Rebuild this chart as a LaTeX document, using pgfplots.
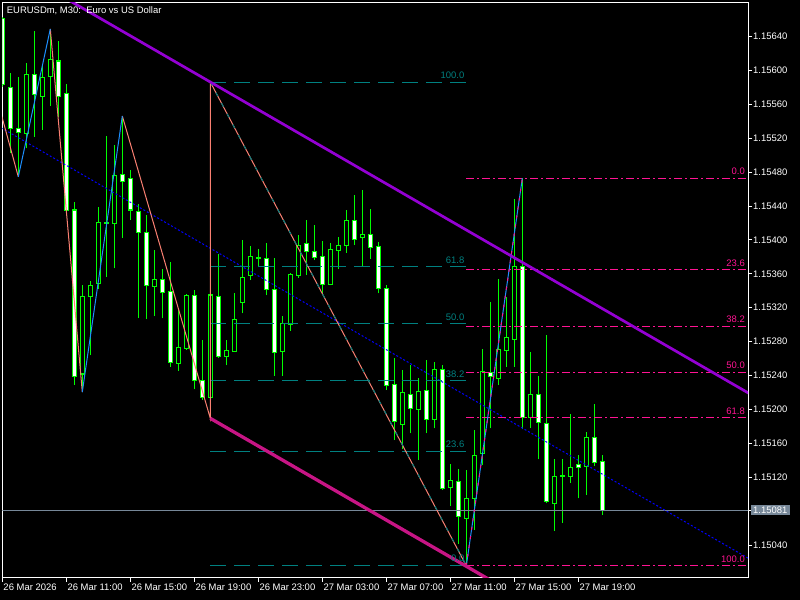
\documentclass[border=0pt]{standalone}
\usepackage{fontspec}
\setmainfont{Liberation Sans}
\usepackage{pgfplots}
\usepackage{pgfplotstable}
\pgfplotsset{compat=1.18}

\definecolor{candle}{RGB}{0,255,0}
\definecolor{violetline}{RGB}{148,0,211}
\definecolor{lowline}{RGB}{199,21,133}
\definecolor{fibA}{RGB}{0,128,128}
\definecolor{fibB}{RGB}{255,20,147}
\definecolor{zzdown}{RGB}{250,128,114}
\definecolor{zzup}{RGB}{30,144,255}
\definecolor{pricegray}{RGB}{119,136,153}

% EURUSDm M30 bars. i = bar index (half hours from 26 Mar 07:00)
% o h l c given in points above 1.15000, i.e. price = 1.15000 + value/100000
\pgfplotstableread{
i o h l c
0 661.5 663.0 580.0 582.8
1 580.1 596.6 502.6 531.7
2 531.7 592.6 474.5 526.8
3 525.8 608.8 508.1 594.6
4 594.6 646.5 521.8 571.4
5 569.0 606.4 529.7 591.9
6 593.4 648.9 558.0 612.3
7 611.1 634.7 545.0 569.0
8 572.2 584.0 428.2 434.5
9 435.3 444.7 229.4 238.6
10 241.8 346.4 220.5 333.8
11 333.0 351.9 264.2 346.4
12 348.8 439.2 342.4 420.8
13 420.0 522.6 356.6 421.0
14 419.6 512.0 366.5 476.2
15 477.4 546.2 402.6 469.5
16 472.7 482.5 423.5 435.3
17 433.3 442.0 308.2 409.0
18 409.0 429.4 306.3 346.4
19 344.8 388.1 310.2 353.5
20 353.5 365.3 307.5 338.2
21 339.7 373.9 250.4 255.1
22 254.4 319.3 245.7 273.3
23 271.6 336.2 270.1 334.6
24 334.2 340.9 223.7 233.9
25 234.3 281.9 211.1 214.3
26 214.3 586.3 189.5 335.0
27 333.0 383.4 260.7 263.0
28 262.2 281.9 252.0 269.3
29 268.1 337.0 267.7 306.3
30 325.9 399.9 313.4 355.9
31 357.8 392.8 352.7 380.7
32 379.0 388.9 367.7 379.5
33 378.3 396.0 334.6 341.7
34 341.7 378.3 239.8 267.4
35 268.1 310.2 239.8 300.8
36 300.4 360.6 292.9 359.4
37 357.8 405.8 355.4 393.6
38 396.0 423.5 358.6 386.6
39 386.9 417.6 376.3 379.0
40 380.7 398.7 337.0 347.6
41 347.6 396.0 346.8 388.9
42 387.7 403.1 365.7 393.6
43 393.6 435.3 384.9 423.1
44 423.1 453.0 394.0 400.7
45 403.1 458.9 369.2 406.6
46 406.6 436.1 377.5 391.3
47 392.5 397.9 337.0 342.9
48 342.9 346.8 222.9 228.8
49 229.6 260.3 163.9 185.5
50 182.4 246.5 152.9 220.2
51 217.8 252.4 171.8 201.3
52 200.1 236.7 140.3 221.7
53 222.5 258.3 171.8 188.3
54 188.3 256.3 177.7 247.3
55 247.3 252.4 104.9 106.9
56 107.6 135.6 86.0 115.9
57 114.7 129.3 41.2 73.4
58 71.5 128.5 15.5 95.1
59 95.1 175.7 57.7 146.2
60 148.2 270.9 134.4 244.5
61 244.1 326.4 177.7 239.4
62 236.7 353.9 228.8 270.9
63 270.1 333.0 250.4 285.1
64 282.7 447.9 250.4 368.4
65 369.2 472.7 176.5 190.7
66 190.7 267.4 178.4 217.8
67 217.8 239.4 141.1 184.8
68 183.6 287.8 89.2 91.1
69 89.2 141.1 56.9 121.4
70 121.0 141.1 66.3 121.6
71 120.6 194.2 113.5 131.7
72 134.8 146.2 95.1 131.2
73 133.2 173.7 99.0 166.6
74 166.6 206.0 133.2 137.9
75 138.3 146.2 75.4 81.0
}\ohlc

\newcommand{\lbl}{\fontsize{9.5}{11}\selectfont}

\begin{document}
\begin{tikzpicture}
\fill[black] (-2.3bp,-22bp) rectangle (797.7bp,578bp);
\path[use as bounding box] (-2.3bp,-22bp) rectangle (797.7bp,578bp);
\begin{axis}[
  scale only axis, width=745.7bp, height=575.3bp,
  xmin=0, xmax=93.21, ymin=1.1, ymax=679.9,
  axis line style={white, line width=1bp},
  tick style={white, line width=1bp},
  tick align=outside, major tick length=4bp,
  xtick pos=bottom, ytick pos=right, yticklabel pos=right,
  xtick={0,8,16,24,32,40,48,56,64,72},
  xticklabels={26 Mar 2026,26 Mar 11:00,26 Mar 15:00,26 Mar 19:00,26 Mar 23:00,27 Mar 03:00,27 Mar 07:00,27 Mar 11:00,27 Mar 15:00,27 Mar 19:00},
  ytick={40,120,160,200,240,280,320,360,400,440,480,520,560,600,640},
  yticklabels={1.15040,1.15120,1.15160,1.15200,1.15240,1.15280,1.15320,1.15360,1.15400,1.15440,1.15480,1.15520,1.15560,1.15600,1.15640},
  extra y ticks={81}, extra y tick labels={1.15081},
  extra y tick style={yticklabel style={fill=pricegray, inner xsep=2.5bp, inner ysep=1.5bp, xshift=-2.5bp}},
  tick label style={font=\lbl, text=white},
  xticklabel style={anchor=north west, inner sep=0pt, xshift=1bp, yshift=-2bp},
  yticklabel style={anchor=west, inner sep=0pt, xshift=1bp},
  /pgf/number format/assume math mode=true,
]
% wicks
\addplot[draw=none, mark=none, forget plot, error bars/.cd, y dir=both, y explicit, error mark=none,
  error bar style={draw=candle, line width=1bp}]
  table[x=i, y=l, y error plus expr={\thisrow{h}-\thisrow{l}}, y error minus expr=0] {\ohlc};
% body outlines
\addplot[draw=none, mark=none, forget plot, error bars/.cd, y dir=both, y explicit, error mark=none,
  error bar style={draw=candle, line width=5bp}]
  table[x=i, y expr={(\thisrow{o}+\thisrow{c})/2}, y error expr={abs(\thisrow{o}-\thisrow{c})/2+0.6}] {\ohlc};
% bearish bodies (white)
\addplot[draw=none, mark=none, forget plot, restrict expr to domain={\thisrow{o}-\thisrow{c}}{0.01:10000},
  error bars/.cd, y dir=both, y explicit, error mark=none,
  error bar style={draw=white, line width=3bp}]
  table[x=i, y expr={(\thisrow{o}+\thisrow{c})/2}, y error expr={max(abs(\thisrow{o}-\thisrow{c})/2-0.6,0)}] {\ohlc};
% bullish bodies (black)
\addplot[draw=none, mark=none, forget plot, restrict expr to domain={\thisrow{o}-\thisrow{c}}{-10000:0},
  error bars/.cd, y dir=both, y explicit, error mark=none,
  error bar style={draw=black, line width=3bp}]
  table[x=i, y expr={(\thisrow{o}+\thisrow{c})/2}, y error expr={max(abs(\thisrow{o}-\thisrow{c})/2-0.6,0)}] {\ohlc};

% bid line
\addplot[pricegray, line width=1bp, forget plot] coordinates {(-1,81) (95,81)};
% blue dotted trend line
\addplot[blue, line width=1bp, dash pattern=on 2bp off 2bp, forget plot] coordinates {(-1,537.0) (94,20.3)};

% Fibonacci 1 (teal)
\foreach \lv in {16.0,150.6,233.9,301.2,368.4,586.3}{
  \edef\tmp{\noexpand\addplot[fibA, line width=1bp, dash pattern=on 16bp off 8bp, forget plot] coordinates {(26,\lv) (58.05,\lv)};}
  \tmp
}
% Fibonacci 2 (pink)
\foreach \lv in {472.7,364.8,298.0,244.1,190.2,15.5}{
  \edef\tmp{\noexpand\addplot[fibB, line width=1bp, dash pattern=on 8bp off 3bp on 2bp off 3bp, forget plot] coordinates {(58,\lv) (95,\lv)};}
  \tmp
}

% zigzag
\addplot[zzdown, line width=1bp, forget plot] coordinates {(-2,613.2) (2,474.5)};
\addplot[zzdown, line width=1bp, forget plot] coordinates {(6,648.9) (10,220.5)};
\addplot[zzdown, line width=1bp, forget plot] coordinates {(15,546.2) (26,189.5) (26,586.3) (58,15.5)};
\addplot[zzup, line width=1bp, forget plot] coordinates {(2,474.5) (6,648.9)};
\addplot[zzup, line width=1bp, forget plot] coordinates {(10,220.5) (15,546.2)};
\addplot[zzup, line width=1bp, forget plot] coordinates {(58,15.5) (65,472.7)};
% fib trend lines
\addplot[fibA, line width=1bp, dash pattern=on 4bp off 8bp, forget plot] coordinates {(26,586.3) (58,16.0)};
\addplot[fibB, line width=1bp, dash pattern=on 3bp off 6bp, forget plot] coordinates {(58,15.5) (65,472.7)};

% channel
\addplot[violetline, line width=2.7bp, forget plot] coordinates {(5,700.9) (94,215.3)};
\addplot[lowline, line width=3.3bp, forget plot] coordinates {(26,189.5) (80,-105.1)};

% level labels
\begin{scope}[every node/.style={font=\lbl, inner sep=0pt, anchor=base east, yshift=3.5bp}]
\node[text=fibA] at (axis cs:57.78,586.3) {100.0};
\node[text=fibA] at (axis cs:57.78,368.4) {61.8};
\node[text=fibA] at (axis cs:57.78,301.2) {50.0};
\node[text=fibA] at (axis cs:57.78,233.9) {38.2};
\node[text=fibA] at (axis cs:57.78,150.6) {23.6};
\node[text=fibA] at (axis cs:57.78,16.0) {0.0};
\node[text=fibB] at (axis cs:92.84,472.7) {0.0};
\node[text=fibB] at (axis cs:92.84,364.8) {23.6};
\node[text=fibB] at (axis cs:92.84,298.0) {38.2};
\node[text=fibB] at (axis cs:92.84,244.1) {50.0};
\node[text=fibB] at (axis cs:92.84,190.2) {61.8};
\node[text=fibB] at (axis cs:92.84,15.5) {100.0};
\end{scope}
\node[font=\lbl, text=white, inner sep=0pt, anchor=base west, xshift=4.4bp, yshift=-10.6bp] at (rel axis cs:0,1) {EURUSDm, M30:\ \ Euro vs US Dollar};
\end{axis}
\end{tikzpicture}
\end{document}
